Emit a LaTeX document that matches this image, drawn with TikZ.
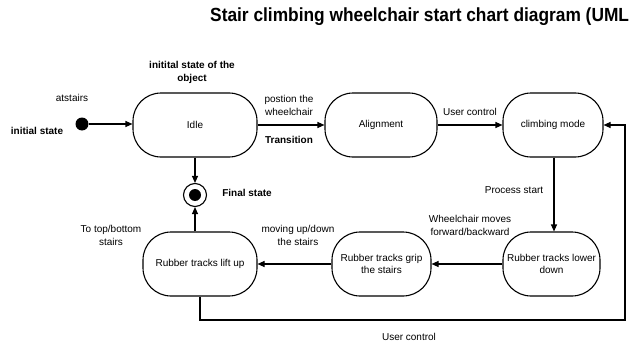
\documentclass[tikz,border=0pt]{standalone}
\usepackage{fontspec}
\setmainfont{Liberation Sans}
\usetikzlibrary{arrows.meta}
\begin{document}
\begin{tikzpicture}[x=1pt,y=-1pt,
  state/.style={draw, line width=1.1pt, rounded corners=28pt, minimum height=64pt,
    align=center, inner sep=0pt, font=\fontsize{10}{12.5}\selectfont},
  lbl/.style={align=center, inner sep=0pt, font=\fontsize{10}{13}\selectfont},
  blbl/.style={align=center, inner sep=0pt, font=\fontsize{10}{13}\selectfont\bfseries},
  flow/.style={line width=1.1pt, -{Triangle[length=7pt,width=6pt]}},
]
\useasboundingbox (0,0) rectangle (629,345);

% title
\node[anchor=base west, inner sep=0pt, font=\fontsize{19}{22}\selectfont\bfseries]
  (title) at (210,22) {\scalebox{0.912}[1]{Stair climbing wheelchair start chart diagram (UML}};

% pseudo states
\node[circle, fill, minimum size=13pt, inner sep=0pt] (init) at (82,124) {};
\node[circle, draw, line width=1.1pt, minimum size=23pt, inner sep=0pt] (final) at (195,195) {};
\node[circle, fill, minimum size=12pt, inner sep=0pt] (finaldot) at (final) {};

% states
\node[state, minimum width=124pt] (idle)  at (195,125) {Idle};
\node[state, minimum width=112pt] (align) at (381,125) {Alignment};
\node[state, minimum width=100pt] (climb) at (553,125) {climbing mode};
\node[state, minimum width=114pt] (lift)  at (200,264) {Rubber tracks lift up};
\node[state, minimum width=99pt]  (grip)  at (381.5,264) {Rubber tracks grip\\the stairs};
\node[state, minimum width=97pt]  (lower) at (551.5,264) {Rubber tracks lower\\down};

% transitions
\draw[flow] (init) -- (idle.west |- init);
\draw[flow] (idle) -- (align);
\draw[flow] (align) -- (climb);
\draw[flow] (idle) -- (final);
\draw[flow] (lift.north -| final) -- (final.south);
\draw[flow] ([xshift=1pt]climb.south) -- ([xshift=1pt]climb.south |- lower.north);
\draw[flow] (lower) -- (grip);
\draw[flow] (grip) -- (lift);
\coordinate (loopR) at (625,320);
\draw[flow] (lift.south) -- (lift.south |- loopR) -- (loopR) -- (loopR |- climb.east) -- (climb.east);

% labels
\node[blbl] (lobj)   at (192,72)  {initital state of the\\object};
\node[lbl]  (latst)  at (72,98)   {atstairs};
\node[blbl] (linit)  at (37,131)  {initial state};
\node[lbl]  (lpos)   at (289,105.5) {postion the\\wheelchair};
\node[blbl] (ltrans) at (289,140) {Transition};
\node[lbl]  (luser)  at (470,112) {User control};
\node[blbl] (lfinal) at (247,193) {Final state};
\node[lbl]  (lproc)  at (514,190) {Process start};
\node[lbl]  (ltop)   at (111,235.5) {To top/bottom\\stairs};
\node[lbl]  (lmove)  at (298,235.5) {moving up/down\\the stairs};
\node[lbl]  (lwheel) at (470,225) {Wheelchair moves\\forward/backward};
\node[lbl]  (luser2) at (409,337) {User control};
\end{tikzpicture}
\end{document}
